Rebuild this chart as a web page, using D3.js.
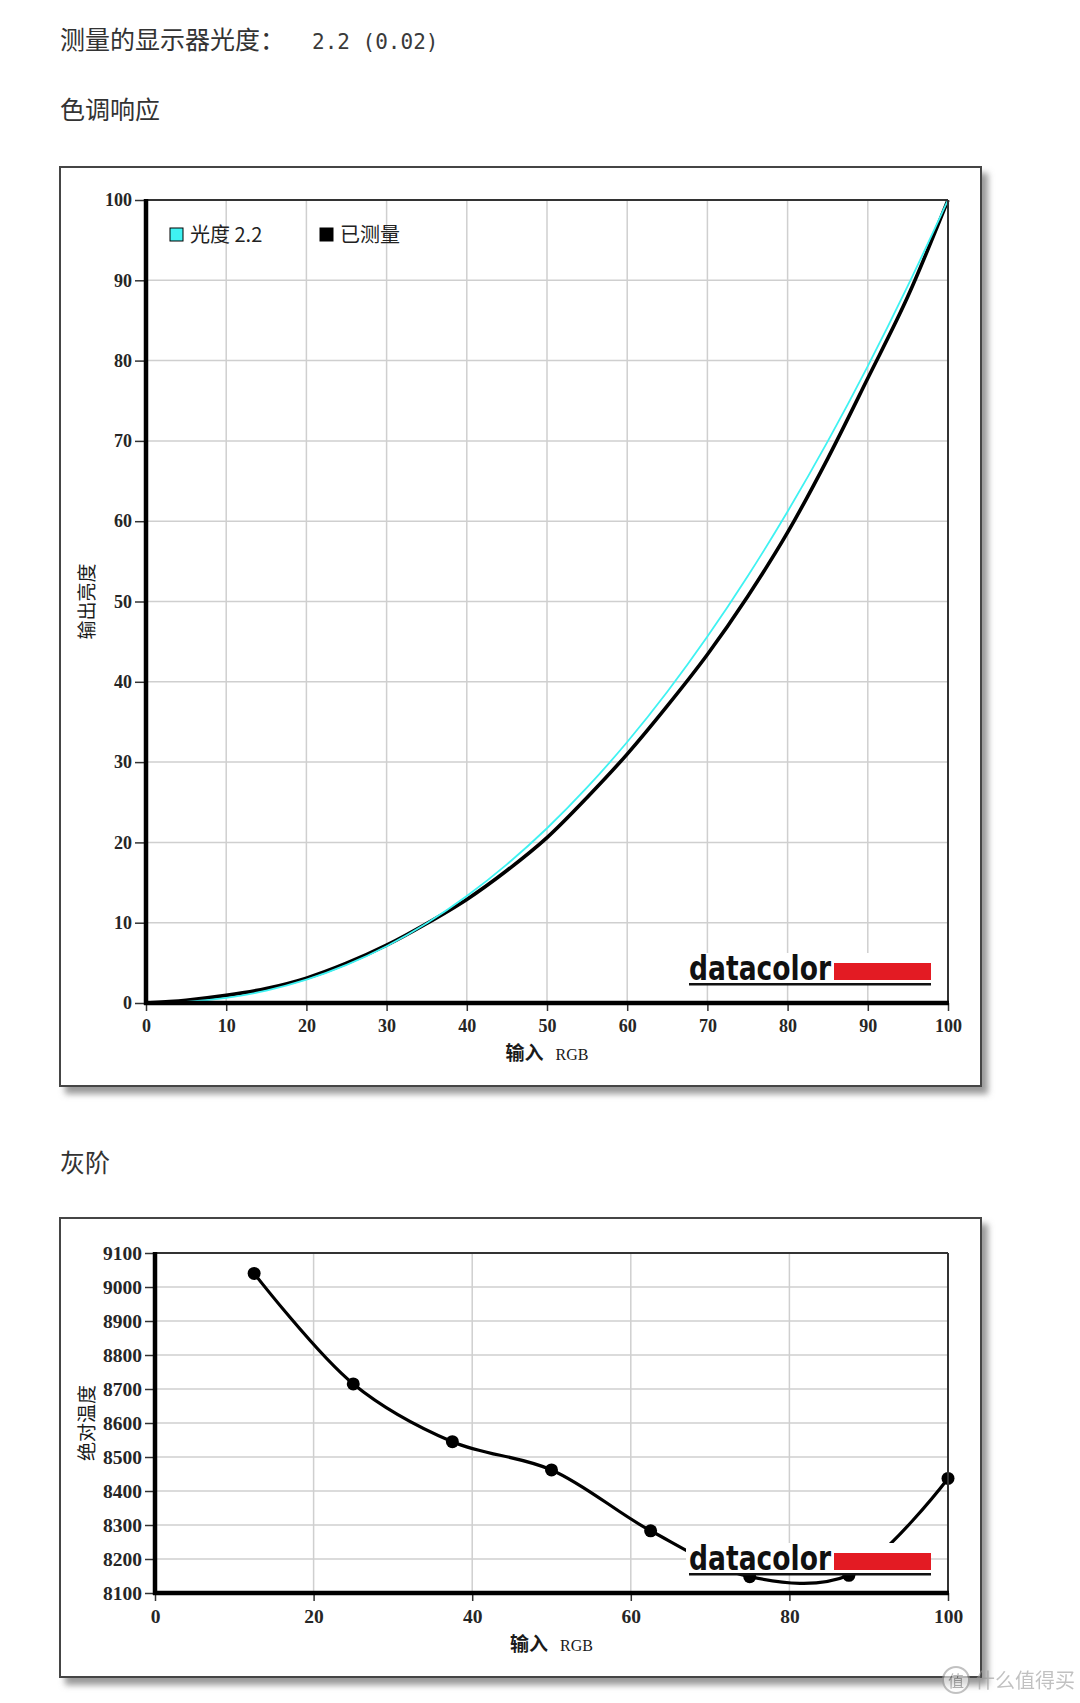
<!DOCTYPE html>
<html lang='zh'>
<head>
<meta charset='utf-8'>
<title>色调响应 / 灰阶</title>
<script src='https://cdn.jsdelivr.net/npm/d3@7/dist/d3.min.js'></script>
<style>
  body { margin: 0; background: #fff; }
  .tick text { font-family: 'Liberation Serif', serif; font-weight: bold; fill: #262626; }
</style>
</head>
<body>
<script>
// ---- tone response (色调响应) ----
var inputRGB = [0, 5, 10, 15, 20, 25, 30, 35, 40, 45, 50, 55, 60, 65, 70, 75, 80, 85, 90, 95, 100];
var gamma22 = [0, 0.14, 0.63, 1.54, 2.90, 4.74, 7.07, 9.93, 13.32, 17.26, 21.76, 26.84, 32.50, 38.76, 45.63, 53.11, 61.21, 69.94, 79.31, 89.33, 100];
var measured = [0, 0.35, 0.95, 1.8, 3.1, 4.95, 7.2, 9.9, 12.9, 16.5, 20.6, 25.6, 31.0, 37.0, 43.4, 50.6, 58.6, 67.8, 77.8, 88.0, 100];
var toneTicks = [0, 10, 20, 30, 40, 50, 60, 70, 80, 90, 100];
var legendNames = ['光度 2.2', '已测量'];

// ---- grayscale (灰阶) ----
var grayRGB = [12.5, 25, 37.5, 50, 62.5, 75, 87.5, 100];
var grayTemp = [9040, 8715, 8545, 8462, 8283, 8148, 8152, 8437];
var grayXTicks = [0, 20, 40, 60, 80, 100];
var grayYTicks = [8100, 8200, 8300, 8400, 8500, 8600, 8700, 8800, 8900, 9000, 9100];

var W = 1080, H = 1703;
var cjk = "'Noto Sans CJK SC', sans-serif";

var svg = d3.select('body').append('svg').attr('width', W).attr('height', H);

var flt = svg.append('defs').append('filter').attr('id', 'shadow')
  .attr('x', '-5%').attr('y', '-5%').attr('width', '115%').attr('height', '115%');
flt.append('feDropShadow').attr('dx', 6).attr('dy', 7).attr('stdDeviation', 3)
  .attr('flood-color', '#777').attr('flood-opacity', 0.75);

// headings
var h1 = svg.append('text').attr('x', 60).attr('y', 49).attr('fill', '#333')
  .style('font-family', cjk).style('font-size', '25px');
h1.append('tspan').text('测量的显示器光度：');
h1.append('tspan').attr('x', 312).style('font-family', "'DejaVu Sans Mono', monospace")
  .style('font-size', '21px').attr('fill', '#3a3a3a').text('2.2 (0.02)');

svg.append('text').attr('x', 60).attr('y', 119).attr('fill', '#333')
  .style('font-family', cjk).style('font-size', '25px').text('色调响应');
svg.append('text').attr('x', 60).attr('y', 1172).attr('fill', '#333')
  .style('font-family', cjk).style('font-size', '25px').text('灰阶');

function frame(y0, y1) {
  svg.append('rect').attr('x', 60).attr('y', y0).attr('width', 921).attr('height', y1 - y0)
    .attr('fill', '#fff').attr('stroke', '#444').attr('stroke-width', 2)
    .attr('filter', 'url(#shadow)');
}

function grid(g, x, y, xt, yt) {
  g.selectAll('.gx').data(xt).enter().append('line')
    .attr('x1', d => x(d)).attr('x2', d => x(d))
    .attr('y1', y.range()[1]).attr('y2', y.range()[0])
    .attr('stroke', '#cfcfcf').attr('stroke-width', 1.5);
  g.selectAll('.gy').data(yt).enter().append('line')
    .attr('x1', x.range()[0]).attr('x2', x.range()[1])
    .attr('y1', d => y(d)).attr('y2', d => y(d))
    .attr('stroke', '#cfcfcf').attr('stroke-width', 1.5);
}

function axes(x, y, xt, yt, fs, ySize, xPad) {
  var l = x.range()[0], r = x.range()[1], b = y.range()[0], t = y.range()[1];
  var ax = svg.append('g').attr('transform', 'translate(0,' + b + ')')
    .call(d3.axisBottom(x).tickValues(xt).tickSize(8).tickPadding(xPad).tickFormat(d3.format('d')));
  var ay = svg.append('g').attr('transform', 'translate(' + l + ',0)')
    .call(d3.axisLeft(y).tickValues(yt).tickSize(ySize).tickPadding(3).tickFormat(d3.format('d')));
  [ax, ay].forEach(function(a) {
    a.select('.domain').remove();
    a.selectAll('.tick line').attr('stroke', '#333').attr('stroke-width', 1.5);
    a.selectAll('.tick text').style('font-size', fs + 'px');
  });
  // plot border: thin top/right, heavy left/bottom
  svg.append('line').attr('x1', l).attr('x2', r).attr('y1', t).attr('y2', t).attr('stroke', '#333').attr('stroke-width', 2);
  svg.append('line').attr('x1', r).attr('x2', r).attr('y1', t).attr('y2', b).attr('stroke', '#333').attr('stroke-width', 2);
  svg.append('line').attr('x1', l).attr('x2', l).attr('y1', t - 1).attr('y2', b + 2).attr('stroke', '#000').attr('stroke-width', 4.5);
  svg.append('line').attr('x1', l - 2).attr('x2', r + 1).attr('y1', b).attr('y2', b).attr('stroke', '#000').attr('stroke-width', 4.5);
}

function titles(x, y, yTitle, xTitleY) {
  var cx = (x.range()[0] + x.range()[1]) / 2, cy = (y.range()[0] + y.range()[1]) / 2;
  var xt = svg.append('text').attr('x', cx).attr('y', xTitleY).attr('text-anchor', 'middle').attr('fill', '#1a1a1a');
  xt.append('tspan').style('font-family', cjk).style('font-size', '19px').style('font-weight', 'bold').text('输入');
  xt.append('tspan').attr('dx', 12).style('font-family', "'Liberation Serif', serif").style('font-size', '16px').text('RGB');
  svg.append('text').attr('transform', 'translate(85,' + cy + ') rotate(-90)')
    .attr('text-anchor', 'middle').attr('dominant-baseline', 'central').attr('fill', '#1a1a1a')
    .style('font-family', cjk).style('font-size', '19px').text(yTitle);
}

function logo(x, y) {
  var r = x.range()[1] - 17, base = y.range()[0] - 23;
  var g = svg.append('g');
  g.append('rect').attr('x', r - 245).attr('y', base - 27).attr('width', 245).attr('height', 32).attr('fill', '#fff');
  g.append('text').attr('x', r - 242).attr('y', base).attr('textLength', 142).attr('lengthAdjust', 'spacingAndGlyphs')
    .style('font-family', "'DejaVu Sans', sans-serif").style('font-weight', 'bold').style('font-size', '33px')
    .attr('fill', '#111').text('datacolor');
  g.append('rect').attr('x', r - 97).attr('y', base - 17).attr('width', 97).attr('height', 17).attr('fill', '#e31b23');
  g.append('rect').attr('x', r - 242).attr('y', base + 3).attr('width', 242).attr('height', 2.5).attr('fill', '#111');
}

// ================= chart 1 =================
frame(167, 1086);
var x1 = d3.scaleLinear().domain([0, 100]).range([146, 948]);
var y1 = d3.scaleLinear().domain([0, 100]).range([1003, 200]);
grid(svg.append('g'), x1, y1, toneTicks.slice(1, -1), toneTicks.slice(1, -1));
logo(x1, y1);

var line1 = d3.line().x((d, i) => x1(inputRGB[i])).y(d => y1(d)).curve(d3.curveMonotoneX);
svg.append('path').datum(measured).attr('d', line1).attr('fill', 'none')
  .attr('stroke', '#000').attr('stroke-width', 3.6);
svg.append('path').datum(gamma22).attr('d', line1).attr('fill', 'none')
  .attr('stroke', '#3ff2f2').attr('stroke-width', 1.8);

axes(x1, y1, toneTicks, toneTicks, 18, 11, 8);
titles(x1, y1, '输出亮度', 1060);

// legend
var lg = svg.append('g').attr('transform', 'translate(' + (x1.range()[0] + 24) + ',' + (y1.range()[1] + 28) + ')');
var lgColors = ['#3ff2f2', '#000'];
var lgItems = lg.selectAll('g').data(legendNames).enter().append('g')
  .attr('transform', (d, i) => 'translate(' + (i * 150) + ',0)');
lgItems.append('rect').attr('width', 13).attr('height', 13)
  .attr('fill', (d, i) => lgColors[i]).attr('stroke', '#000').attr('stroke-width', 1);
lgItems.append('text').attr('x', 20).attr('y', 14).attr('fill', '#222')
  .style('font-family', cjk).style('font-size', '20px').text(d => d);

// ================= chart 2 =================
frame(1218, 1677);
var x2 = d3.scaleLinear().domain([0, 100]).range([155, 948]);
var y2 = d3.scaleLinear().domain([8100, 9100]).range([1593, 1253]);
grid(svg.append('g'), x2, y2, grayXTicks.slice(1, -1), grayYTicks.slice(1, -1));

var line2 = d3.line().x((d, i) => x2(grayRGB[i])).y(d => y2(d)).curve(d3.curveCatmullRom.alpha(0.5));
svg.append('path').datum(grayTemp).attr('d', line2).attr('fill', 'none')
  .attr('stroke', '#000').attr('stroke-width', 3.2);
svg.selectAll('.dot').data(grayTemp).enter().append('circle')
  .attr('cx', (d, i) => x2(grayRGB[i])).attr('cy', d => y2(d)).attr('r', 6.5).attr('fill', '#000');
logo(x2, y2);

axes(x2, y2, grayXTicks, grayYTicks, 19.5, 10, 8);
titles(x2, y2, '绝对温度', 1651);

// watermark
var wm = svg.append('g').attr('opacity', 0.6);
wm.append('circle').attr('cx', 956).attr('cy', 1680).attr('r', 13).attr('fill', '#fff').attr('stroke', '#999').attr('stroke-width', 2);
wm.append('text').attr('x', 956).attr('y', 1687).attr('text-anchor', 'middle').attr('fill', '#888')
  .style('font-family', cjk).style('font-size', '16px').text('值');
wm.append('text').attr('x', 975).attr('y', 1688).attr('fill', '#999')
  .style('font-family', cjk).style('font-size', '20px').text('什么值得买');
</script>
</body>
</html>
